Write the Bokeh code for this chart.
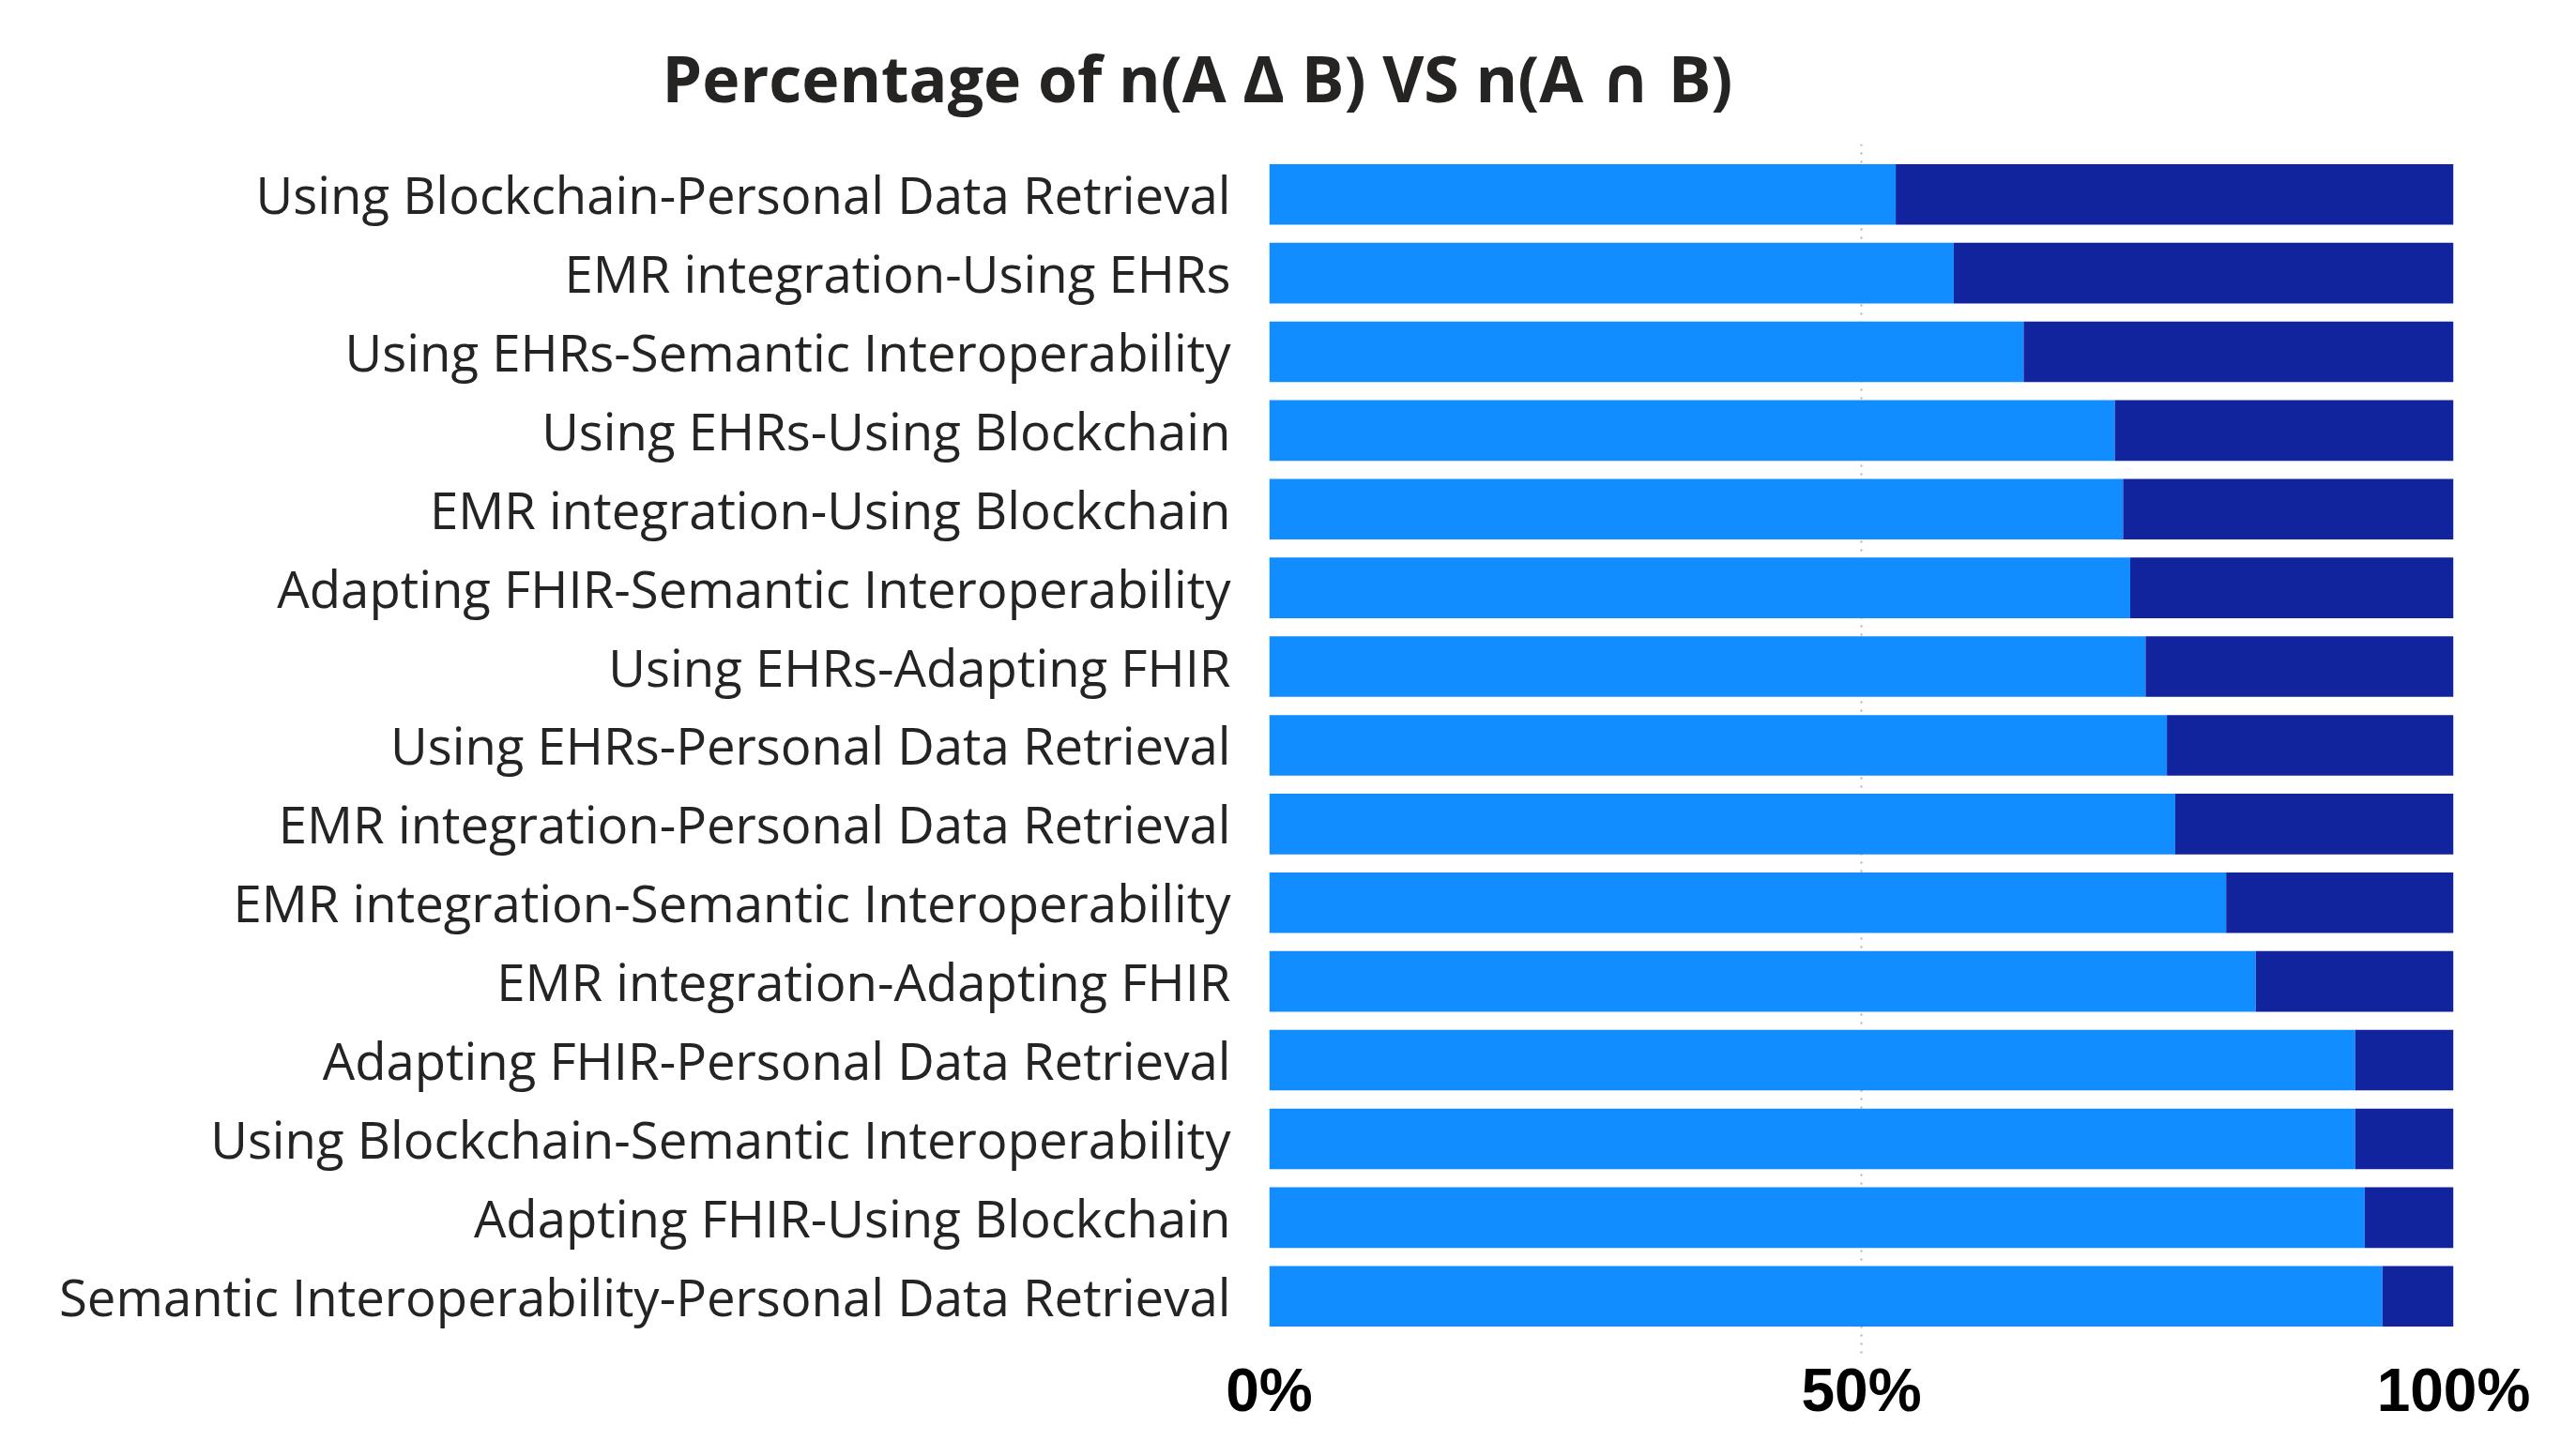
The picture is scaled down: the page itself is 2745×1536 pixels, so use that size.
from bokeh.plotting import figure
from bokeh.models import Range1d, FixedTicker, PrintfTickFormatter, ColumnDataSource
from bokeh.embed import file_html
from bokeh.resources import INLINE

categories = [
    "Using Blockchain-Personal Data Retrieval",
    "EMR integration-Using EHRs",
    "Using EHRs-Semantic Interoperability",
    "Using EHRs-Using Blockchain",
    "EMR integration-Using Blockchain",
    "Adapting FHIR-Semantic Interoperability",
    "Using EHRs-Adapting FHIR",
    "Using EHRs-Personal Data Retrieval",
    "EMR integration-Personal Data Retrieval",
    "EMR integration-Semantic Interoperability",
    "EMR integration-Adapting FHIR",
    "Adapting FHIR-Personal Data Retrieval",
    "Using Blockchain-Semantic Interoperability",
    "Adapting FHIR-Using Blockchain",
    "Semantic Interoperability-Personal Data Retrieval",
]
sym_diff_pct = [52.9, 57.8, 63.7, 71.4, 72.1, 72.7, 74.0, 75.8, 76.5, 80.8, 83.3, 91.7, 91.7, 92.5, 94.0]
intersect_pct = [47.1, 42.2, 36.3, 28.6, 27.9, 27.3, 26.0, 24.2, 23.5, 19.2, 16.7, 8.3, 8.3, 7.5, 6.0]
x_ticks = [0, 50, 100]
title_text = "Percentage of n(A \u0394 B) VS n(A \u2229 B)"

rows = list(range(len(categories)))
src = ColumnDataSource(dict(
    y=rows,
    left1=[0] * len(rows),
    right1=sym_diff_pct,
    right2=[a + b for a, b in zip(sym_diff_pct, intersect_pct)],
))

n = len(categories)
p = figure(width=2729, height=1520, output_backend="svg", toolbar_location=None,
           x_range=Range1d(0, 100), y_range=Range1d(n - 1 + 0.76, -0.64),
           min_border_left=1352, min_border_right=115, min_border_top=153,
           min_border_bottom=20)
p.outline_line_color = None
p.background_fill_color = "white"
p.border_fill_color = "white"

p.title.text = title_text
p.title.text_font = "Open Sans, DejaVu Sans"
p.title.text_font_style = "bold"
p.title.text_font_size = "68px"
p.title.text_color = "#252423"
p.title.align = "left"
p.title.vertical_align = "top"
p.title.offset = -647
p.title.standoff = 45

p.hbar(y="y", left="left1", right="right1", height=0.77, source=src,
       fill_color="#118DFF", line_color=None)
p.hbar(y="y", left="right1", right="right2", height=0.77, source=src,
       fill_color="#12239E", line_color=None)

p.xaxis.ticker = FixedTicker(ticks=x_ticks)
p.xaxis.formatter = PrintfTickFormatter(format="%d%%")
p.xaxis.axis_line_color = None
p.xaxis.major_tick_line_color = None
p.xaxis.minor_tick_line_color = None
p.xaxis.major_tick_out = 0
p.xaxis.major_tick_in = 0
p.xaxis.major_label_text_font = "Liberation Sans"
p.xaxis.major_label_text_font_style = "bold"
p.xaxis.major_label_text_font_size = "64px"
p.xaxis.major_label_text_color = "#000000"
p.xaxis.major_label_standoff = 0

p.yaxis.ticker = FixedTicker(ticks=rows)
p.yaxis.major_label_overrides = {i: c for i, c in enumerate(categories)}
p.yaxis.axis_line_color = None
p.yaxis.major_tick_line_color = None
p.yaxis.minor_tick_line_color = None
p.yaxis.major_tick_out = 0
p.yaxis.major_tick_in = 0
p.yaxis.major_label_text_font = "Open Sans"
p.yaxis.major_label_text_font_size = "54.5px"
p.yaxis.major_label_text_color = "#252423"
p.yaxis.major_label_standoff = 41

p.ygrid.grid_line_color = None
p.xgrid.ticker = FixedTicker(ticks=x_ticks)
p.xgrid.grid_line_color = "#b0b0b0"
p.xgrid.grid_line_dash = "2 7"
p.xgrid.grid_line_width = 2

open("out.html", "w").write(file_html(p, INLINE))
